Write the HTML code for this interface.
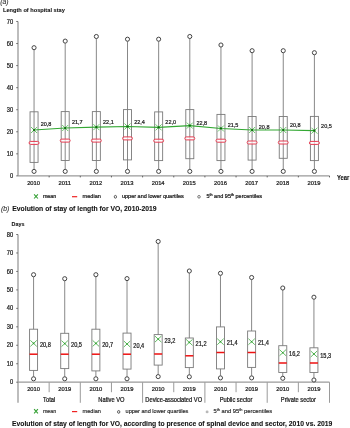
<!DOCTYPE html><html><head><meta charset="utf-8"><style>html,body{margin:0;padding:0;background:#fff;}svg{display:block;filter:blur(0.3px);}text{font-family:"Liberation Sans",sans-serif;stroke:currentColor;stroke-width:0.24px;}text[font-weight="bold"]{stroke-width:0.08px;}</style></head><body>
<svg width="350" height="428" viewBox="0 0 350 428">
<rect width="350" height="428" fill="#fff"/>
<text x="0.3" y="3.5" font-size="6.8" font-style="italic" fill="#333" style="stroke-width:0.1px" color="#333">(a)</text>
<text transform="translate(3.00 12.30) scale(0.9091 1)" font-size="6.22" fill="#111" color="#111" font-weight="bold">Length of hospital stay</text>
<line x1="18.0" y1="21.48" x2="18.0" y2="175.90" stroke="#9a9a9a" stroke-width="1.3"/>
<line x1="16.2" y1="175.90" x2="18.0" y2="175.90" stroke="#666" stroke-width="0.9"/>
<text transform="translate(13.20 178.00) scale(0.9091 1)" font-size="6.27" text-anchor="end" fill="#222" color="#222">0</text>
<line x1="16.2" y1="153.84" x2="18.0" y2="153.84" stroke="#666" stroke-width="0.9"/>
<text transform="translate(13.20 155.94) scale(0.9091 1)" font-size="6.27" text-anchor="end" fill="#222" color="#222">10</text>
<line x1="16.2" y1="131.78" x2="18.0" y2="131.78" stroke="#666" stroke-width="0.9"/>
<text transform="translate(13.20 133.88) scale(0.9091 1)" font-size="6.27" text-anchor="end" fill="#222" color="#222">20</text>
<line x1="16.2" y1="109.72" x2="18.0" y2="109.72" stroke="#666" stroke-width="0.9"/>
<text transform="translate(13.20 111.82) scale(0.9091 1)" font-size="6.27" text-anchor="end" fill="#222" color="#222">30</text>
<line x1="16.2" y1="87.66" x2="18.0" y2="87.66" stroke="#666" stroke-width="0.9"/>
<text transform="translate(13.20 89.76) scale(0.9091 1)" font-size="6.27" text-anchor="end" fill="#222" color="#222">40</text>
<line x1="16.2" y1="65.60" x2="18.0" y2="65.60" stroke="#666" stroke-width="0.9"/>
<text transform="translate(13.20 67.70) scale(0.9091 1)" font-size="6.27" text-anchor="end" fill="#222" color="#222">50</text>
<line x1="16.2" y1="43.54" x2="18.0" y2="43.54" stroke="#666" stroke-width="0.9"/>
<text transform="translate(13.20 45.64) scale(0.9091 1)" font-size="6.27" text-anchor="end" fill="#222" color="#222">60</text>
<line x1="16.2" y1="21.48" x2="18.0" y2="21.48" stroke="#666" stroke-width="0.9"/>
<text transform="translate(13.20 23.58) scale(0.9091 1)" font-size="6.27" text-anchor="end" fill="#222" color="#222">70</text>
<line x1="18.0" y1="175.90" x2="329.50" y2="175.90" stroke="#9a9a9a" stroke-width="1.3"/>
<line x1="49.15" y1="175.90" x2="49.15" y2="177.40" stroke="#555" stroke-width="0.9"/>
<line x1="80.30" y1="175.90" x2="80.30" y2="177.40" stroke="#555" stroke-width="0.9"/>
<line x1="111.45" y1="175.90" x2="111.45" y2="177.40" stroke="#555" stroke-width="0.9"/>
<line x1="142.60" y1="175.90" x2="142.60" y2="177.40" stroke="#555" stroke-width="0.9"/>
<line x1="173.75" y1="175.90" x2="173.75" y2="177.40" stroke="#555" stroke-width="0.9"/>
<line x1="204.90" y1="175.90" x2="204.90" y2="177.40" stroke="#555" stroke-width="0.9"/>
<line x1="236.05" y1="175.90" x2="236.05" y2="177.40" stroke="#555" stroke-width="0.9"/>
<line x1="267.20" y1="175.90" x2="267.20" y2="177.40" stroke="#555" stroke-width="0.9"/>
<line x1="298.35" y1="175.90" x2="298.35" y2="177.40" stroke="#555" stroke-width="0.9"/>
<line x1="329.50" y1="175.90" x2="329.50" y2="177.40" stroke="#555" stroke-width="0.9"/>
<text x="33.58" y="185.20" font-size="5.8" text-anchor="middle" fill="#222" color="#222">2010</text>
<text x="64.72" y="185.20" font-size="5.8" text-anchor="middle" fill="#222" color="#222">2011</text>
<text x="95.88" y="185.20" font-size="5.8" text-anchor="middle" fill="#222" color="#222">2012</text>
<text x="127.02" y="185.20" font-size="5.8" text-anchor="middle" fill="#222" color="#222">2013</text>
<text x="158.17" y="185.20" font-size="5.8" text-anchor="middle" fill="#222" color="#222">2014</text>
<text x="189.32" y="185.20" font-size="5.8" text-anchor="middle" fill="#222" color="#222">2015</text>
<text x="220.47" y="185.20" font-size="5.8" text-anchor="middle" fill="#222" color="#222">2016</text>
<text x="251.62" y="185.20" font-size="5.8" text-anchor="middle" fill="#222" color="#222">2017</text>
<text x="282.77" y="185.20" font-size="5.8" text-anchor="middle" fill="#222" color="#222">2018</text>
<text x="313.93" y="185.20" font-size="5.8" text-anchor="middle" fill="#222" color="#222">2019</text>
<text transform="translate(337.00 179.70) scale(0.9091 1)" font-size="6.44" fill="#111" color="#111" font-weight="bold">Year</text>
<line x1="34.05" y1="49.75" x2="34.05" y2="169.35" stroke="#7a7a7a" stroke-width="0.9"/>
<rect x="30.05" y="111.80" width="8" height="50.60" fill="none" stroke="#7a7a7a" stroke-width="0.9"/>
<circle cx="34.05" cy="47.70" r="2.05" fill="#fff" stroke="#444" stroke-width="1.0"/>
<circle cx="34.05" cy="171.40" r="2.05" fill="#fff" stroke="#444" stroke-width="1.0"/>
<rect x="29.10" y="141.40" width="9.9" height="3.0" rx="1.5" fill="#fff" fill-opacity="0.65" stroke="#e63a50" stroke-width="1.0"/>
<text transform="translate(40.75 125.60) scale(0.9091 1)" font-size="6.05" fill="#222" color="#222">20,8</text>
<line x1="65.20" y1="43.15" x2="65.20" y2="169.35" stroke="#7a7a7a" stroke-width="0.9"/>
<rect x="61.20" y="111.60" width="8" height="48.90" fill="none" stroke="#7a7a7a" stroke-width="0.9"/>
<circle cx="65.20" cy="41.10" r="2.05" fill="#fff" stroke="#444" stroke-width="1.0"/>
<circle cx="65.20" cy="171.40" r="2.05" fill="#fff" stroke="#444" stroke-width="1.0"/>
<rect x="60.25" y="139.10" width="9.9" height="3.0" rx="1.5" fill="#fff" fill-opacity="0.65" stroke="#e63a50" stroke-width="1.0"/>
<text transform="translate(71.90 124.20) scale(0.9091 1)" font-size="6.05" fill="#222" color="#222">21,7</text>
<line x1="96.35" y1="38.55" x2="96.35" y2="169.35" stroke="#7a7a7a" stroke-width="0.9"/>
<rect x="92.35" y="111.60" width="8" height="48.90" fill="none" stroke="#7a7a7a" stroke-width="0.9"/>
<circle cx="96.35" cy="36.50" r="2.05" fill="#fff" stroke="#444" stroke-width="1.0"/>
<circle cx="96.35" cy="171.40" r="2.05" fill="#fff" stroke="#444" stroke-width="1.0"/>
<rect x="91.40" y="139.10" width="9.9" height="3.0" rx="1.5" fill="#fff" fill-opacity="0.65" stroke="#e63a50" stroke-width="1.0"/>
<text transform="translate(103.05 124.20) scale(0.9091 1)" font-size="6.05" fill="#222" color="#222">22,1</text>
<line x1="127.50" y1="41.25" x2="127.50" y2="169.35" stroke="#7a7a7a" stroke-width="0.9"/>
<rect x="123.50" y="109.60" width="8" height="50.30" fill="none" stroke="#7a7a7a" stroke-width="0.9"/>
<circle cx="127.50" cy="39.20" r="2.05" fill="#fff" stroke="#444" stroke-width="1.0"/>
<circle cx="127.50" cy="171.40" r="2.05" fill="#fff" stroke="#444" stroke-width="1.0"/>
<rect x="122.55" y="136.90" width="9.9" height="3.0" rx="1.5" fill="#fff" fill-opacity="0.65" stroke="#e63a50" stroke-width="1.0"/>
<text transform="translate(134.20 123.50) scale(0.9091 1)" font-size="6.05" fill="#222" color="#222">22,4</text>
<line x1="158.65" y1="41.25" x2="158.65" y2="169.35" stroke="#7a7a7a" stroke-width="0.9"/>
<rect x="154.65" y="111.90" width="8" height="48.70" fill="none" stroke="#7a7a7a" stroke-width="0.9"/>
<circle cx="158.65" cy="39.20" r="2.05" fill="#fff" stroke="#444" stroke-width="1.0"/>
<circle cx="158.65" cy="171.40" r="2.05" fill="#fff" stroke="#444" stroke-width="1.0"/>
<rect x="153.70" y="139.20" width="9.9" height="3.0" rx="1.5" fill="#fff" fill-opacity="0.65" stroke="#e63a50" stroke-width="1.0"/>
<text transform="translate(165.35 123.90) scale(0.9091 1)" font-size="6.05" fill="#222" color="#222">22,0</text>
<line x1="189.80" y1="38.55" x2="189.80" y2="169.35" stroke="#7a7a7a" stroke-width="0.9"/>
<rect x="185.80" y="109.60" width="8" height="49.10" fill="none" stroke="#7a7a7a" stroke-width="0.9"/>
<circle cx="189.80" cy="36.50" r="2.05" fill="#fff" stroke="#444" stroke-width="1.0"/>
<circle cx="189.80" cy="171.40" r="2.05" fill="#fff" stroke="#444" stroke-width="1.0"/>
<rect x="184.85" y="136.90" width="9.9" height="3.0" rx="1.5" fill="#fff" fill-opacity="0.65" stroke="#e63a50" stroke-width="1.0"/>
<text transform="translate(196.50 124.80) scale(0.9091 1)" font-size="6.05" fill="#222" color="#222">22,8</text>
<line x1="220.95" y1="47.05" x2="220.95" y2="169.35" stroke="#7a7a7a" stroke-width="0.9"/>
<rect x="216.95" y="114.40" width="8" height="46.20" fill="none" stroke="#7a7a7a" stroke-width="0.9"/>
<circle cx="220.95" cy="45.00" r="2.05" fill="#fff" stroke="#444" stroke-width="1.0"/>
<circle cx="220.95" cy="171.40" r="2.05" fill="#fff" stroke="#444" stroke-width="1.0"/>
<rect x="216.00" y="139.20" width="9.9" height="3.0" rx="1.5" fill="#fff" fill-opacity="0.65" stroke="#e63a50" stroke-width="1.0"/>
<text transform="translate(227.65 127.20) scale(0.9091 1)" font-size="6.05" fill="#222" color="#222">21,5</text>
<line x1="252.10" y1="52.75" x2="252.10" y2="169.35" stroke="#7a7a7a" stroke-width="0.9"/>
<rect x="248.10" y="116.50" width="8" height="43.60" fill="none" stroke="#7a7a7a" stroke-width="0.9"/>
<circle cx="252.10" cy="50.70" r="2.05" fill="#fff" stroke="#444" stroke-width="1.0"/>
<circle cx="252.10" cy="171.40" r="2.05" fill="#fff" stroke="#444" stroke-width="1.0"/>
<rect x="247.15" y="141.00" width="9.9" height="3.0" rx="1.5" fill="#fff" fill-opacity="0.65" stroke="#e63a50" stroke-width="1.0"/>
<text transform="translate(258.80 128.50) scale(0.9091 1)" font-size="6.05" fill="#222" color="#222">20,8</text>
<line x1="283.25" y1="52.75" x2="283.25" y2="169.35" stroke="#7a7a7a" stroke-width="0.9"/>
<rect x="279.25" y="116.50" width="8" height="41.80" fill="none" stroke="#7a7a7a" stroke-width="0.9"/>
<circle cx="283.25" cy="50.70" r="2.05" fill="#fff" stroke="#444" stroke-width="1.0"/>
<circle cx="283.25" cy="171.40" r="2.05" fill="#fff" stroke="#444" stroke-width="1.0"/>
<rect x="278.30" y="141.00" width="9.9" height="3.0" rx="1.5" fill="#fff" fill-opacity="0.65" stroke="#e63a50" stroke-width="1.0"/>
<text transform="translate(289.95 127.40) scale(0.9091 1)" font-size="6.05" fill="#222" color="#222">20,8</text>
<line x1="314.40" y1="54.75" x2="314.40" y2="169.35" stroke="#7a7a7a" stroke-width="0.9"/>
<rect x="310.40" y="116.40" width="8" height="44.20" fill="none" stroke="#7a7a7a" stroke-width="0.9"/>
<circle cx="314.40" cy="52.70" r="2.05" fill="#fff" stroke="#444" stroke-width="1.0"/>
<circle cx="314.40" cy="171.40" r="2.05" fill="#fff" stroke="#444" stroke-width="1.0"/>
<rect x="309.45" y="141.40" width="9.9" height="3.0" rx="1.5" fill="#fff" fill-opacity="0.65" stroke="#e63a50" stroke-width="1.0"/>
<text transform="translate(321.10 127.90) scale(0.9091 1)" font-size="6.05" fill="#222" color="#222">20,5</text>
<polyline points="34.05,130.02 65.20,128.03 96.35,127.15 127.50,126.49 158.65,127.37 189.80,125.60 220.95,128.47 252.10,130.02 283.25,130.02 314.40,130.68" fill="none" stroke="#33a833" stroke-width="1.15"/>
<path d="M31.05 127.02L37.05 133.02M31.05 133.02L37.05 127.02" stroke="#44bb44" stroke-width="0.8"/>
<circle cx="34.05" cy="130.02" r="1.1" fill="#0a6a0a"/>
<path d="M62.20 125.03L68.20 131.03M62.20 131.03L68.20 125.03" stroke="#44bb44" stroke-width="0.8"/>
<circle cx="65.20" cy="128.03" r="1.1" fill="#0a6a0a"/>
<path d="M93.35 124.15L99.35 130.15M93.35 130.15L99.35 124.15" stroke="#44bb44" stroke-width="0.8"/>
<circle cx="96.35" cy="127.15" r="1.1" fill="#0a6a0a"/>
<path d="M124.50 123.49L130.50 129.49M124.50 129.49L130.50 123.49" stroke="#44bb44" stroke-width="0.8"/>
<circle cx="127.50" cy="126.49" r="1.1" fill="#0a6a0a"/>
<path d="M155.65 124.37L161.65 130.37M155.65 130.37L161.65 124.37" stroke="#44bb44" stroke-width="0.8"/>
<circle cx="158.65" cy="127.37" r="1.1" fill="#0a6a0a"/>
<path d="M186.80 122.60L192.80 128.60M186.80 128.60L192.80 122.60" stroke="#44bb44" stroke-width="0.8"/>
<circle cx="189.80" cy="125.60" r="1.1" fill="#0a6a0a"/>
<path d="M217.95 125.47L223.95 131.47M217.95 131.47L223.95 125.47" stroke="#44bb44" stroke-width="0.8"/>
<circle cx="220.95" cy="128.47" r="1.1" fill="#0a6a0a"/>
<path d="M249.10 127.02L255.10 133.02M249.10 133.02L255.10 127.02" stroke="#44bb44" stroke-width="0.8"/>
<circle cx="252.10" cy="130.02" r="1.1" fill="#0a6a0a"/>
<path d="M280.25 127.02L286.25 133.02M280.25 133.02L286.25 127.02" stroke="#44bb44" stroke-width="0.8"/>
<circle cx="283.25" cy="130.02" r="1.1" fill="#0a6a0a"/>
<path d="M311.40 127.68L317.40 133.68M311.40 133.68L317.40 127.68" stroke="#44bb44" stroke-width="0.8"/>
<circle cx="314.40" cy="130.68" r="1.1" fill="#0a6a0a"/>
<path d="M34.10 194.30L37.90 198.50M34.10 198.50L37.90 194.30" stroke="#33a033" stroke-width="1.1"/>
<text x="42.9" y="197.70" font-size="5.35" fill="#222" color="#222" style="stroke-width:0.24px">mean</text>
<line x1="72.0" y1="196.70" x2="77.2" y2="196.70" stroke="#ee2222" stroke-width="1.2"/>
<text x="82.6" y="197.70" font-size="5.6" fill="#222" color="#222" style="stroke-width:0.24px">median</text>
<ellipse cx="115.40" cy="196.80" rx="1.15" ry="1.4" fill="#fff" stroke="#333" stroke-width="0.8"/>
<text x="122.00" y="197.70" font-size="5.5" fill="#222" color="#222" style="stroke-width:0.24px">upper and lower quartiles</text>
<circle cx="199.00" cy="196.80" r="1.3" fill="#fff" stroke="#444" stroke-width="0.7"/>
<text x="206.50" y="197.70" font-size="5.5" fill="#222" color="#222" style="stroke-width:0.24px">5<tspan font-size="3.63" dy="-1.8">th</tspan><tspan dy="1.8"> and 95</tspan><tspan font-size="3.63" dy="-1.8">th</tspan><tspan dy="1.8"> percentiles</tspan></text>
<text x="0.9" y="211.4" font-size="6.8" font-style="italic" fill="#333" style="stroke-width:0.1px" color="#333">(b)</text>
<text x="12.3" y="211.3" font-size="6.8" font-weight="bold" fill="#111" color="#111">Evolution of stay of length for VO, 2010-2019</text>
<text transform="translate(11.60 225.90) scale(0.8696 1)" font-size="6.27" fill="#111" color="#111" font-weight="bold">Days</text>
<line x1="18.0" y1="234.52" x2="18.0" y2="402.8" stroke="#9a9a9a" stroke-width="1.3"/>
<line x1="16.2" y1="382.20" x2="18.0" y2="382.20" stroke="#666" stroke-width="0.9"/>
<text transform="translate(13.20 384.30) scale(0.9091 1)" font-size="6.27" text-anchor="end" fill="#222" color="#222">0</text>
<line x1="16.2" y1="363.74" x2="18.0" y2="363.74" stroke="#666" stroke-width="0.9"/>
<text transform="translate(13.20 365.84) scale(0.9091 1)" font-size="6.27" text-anchor="end" fill="#222" color="#222">10</text>
<line x1="16.2" y1="345.28" x2="18.0" y2="345.28" stroke="#666" stroke-width="0.9"/>
<text transform="translate(13.20 347.38) scale(0.9091 1)" font-size="6.27" text-anchor="end" fill="#222" color="#222">20</text>
<line x1="16.2" y1="326.82" x2="18.0" y2="326.82" stroke="#666" stroke-width="0.9"/>
<text transform="translate(13.20 328.92) scale(0.9091 1)" font-size="6.27" text-anchor="end" fill="#222" color="#222">30</text>
<line x1="16.2" y1="308.36" x2="18.0" y2="308.36" stroke="#666" stroke-width="0.9"/>
<text transform="translate(13.20 310.46) scale(0.9091 1)" font-size="6.27" text-anchor="end" fill="#222" color="#222">40</text>
<line x1="16.2" y1="289.90" x2="18.0" y2="289.90" stroke="#666" stroke-width="0.9"/>
<text transform="translate(13.20 292.00) scale(0.9091 1)" font-size="6.27" text-anchor="end" fill="#222" color="#222">50</text>
<line x1="16.2" y1="271.44" x2="18.0" y2="271.44" stroke="#666" stroke-width="0.9"/>
<text transform="translate(13.20 273.54) scale(0.9091 1)" font-size="6.27" text-anchor="end" fill="#222" color="#222">60</text>
<line x1="16.2" y1="252.98" x2="18.0" y2="252.98" stroke="#666" stroke-width="0.9"/>
<text transform="translate(13.20 255.08) scale(0.9091 1)" font-size="6.27" text-anchor="end" fill="#222" color="#222">70</text>
<line x1="16.2" y1="234.52" x2="18.0" y2="234.52" stroke="#666" stroke-width="0.9"/>
<text transform="translate(13.20 236.62) scale(0.9091 1)" font-size="6.27" text-anchor="end" fill="#222" color="#222">80</text>
<line x1="18.0" y1="382.20" x2="329.50" y2="382.20" stroke="#9a9a9a" stroke-width="1.3"/>
<line x1="49.15" y1="382.20" x2="49.15" y2="392.20" stroke="#9a9a9a" stroke-width="1"/>
<line x1="80.30" y1="382.20" x2="80.30" y2="402.80" stroke="#9a9a9a" stroke-width="1"/>
<line x1="111.45" y1="382.20" x2="111.45" y2="392.20" stroke="#9a9a9a" stroke-width="1"/>
<line x1="142.60" y1="382.20" x2="142.60" y2="402.80" stroke="#9a9a9a" stroke-width="1"/>
<line x1="173.75" y1="382.20" x2="173.75" y2="392.20" stroke="#9a9a9a" stroke-width="1"/>
<line x1="204.90" y1="382.20" x2="204.90" y2="402.80" stroke="#9a9a9a" stroke-width="1"/>
<line x1="236.05" y1="382.20" x2="236.05" y2="392.20" stroke="#9a9a9a" stroke-width="1"/>
<line x1="267.20" y1="382.20" x2="267.20" y2="402.80" stroke="#9a9a9a" stroke-width="1"/>
<line x1="298.35" y1="382.20" x2="298.35" y2="392.20" stroke="#9a9a9a" stroke-width="1"/>
<line x1="329.50" y1="382.20" x2="329.50" y2="402.80" stroke="#9a9a9a" stroke-width="1"/>
<text x="33.58" y="390.60" font-size="5.8" text-anchor="middle" fill="#222" color="#222">2010</text>
<text x="64.72" y="390.60" font-size="5.8" text-anchor="middle" fill="#222" color="#222">2019</text>
<text x="95.88" y="390.60" font-size="5.8" text-anchor="middle" fill="#222" color="#222">2010</text>
<text x="127.02" y="390.60" font-size="5.8" text-anchor="middle" fill="#222" color="#222">2019</text>
<text x="158.17" y="390.60" font-size="5.8" text-anchor="middle" fill="#222" color="#222">2010</text>
<text x="189.32" y="390.60" font-size="5.8" text-anchor="middle" fill="#222" color="#222">2019</text>
<text x="220.47" y="390.60" font-size="5.8" text-anchor="middle" fill="#222" color="#222">2010</text>
<text x="251.62" y="390.60" font-size="5.8" text-anchor="middle" fill="#222" color="#222">2019</text>
<text x="282.77" y="390.60" font-size="5.8" text-anchor="middle" fill="#222" color="#222">2010</text>
<text x="313.93" y="390.60" font-size="5.8" text-anchor="middle" fill="#222" color="#222">2019</text>
<text transform="translate(49.15 401.60) scale(0.9091 1)" font-size="6.33" text-anchor="middle" fill="#222" color="#222">Total</text>
<text transform="translate(111.45 401.60) scale(0.9091 1)" font-size="6.33" text-anchor="middle" fill="#222" color="#222">Native VO</text>
<text transform="translate(173.75 401.60) scale(0.9091 1)" font-size="6.33" text-anchor="middle" fill="#222" color="#222">Device-associated VO</text>
<text transform="translate(236.05 401.60) scale(0.9091 1)" font-size="6.33" text-anchor="middle" fill="#222" color="#222">Public sector</text>
<text transform="translate(298.35 401.60) scale(0.9091 1)" font-size="6.33" text-anchor="middle" fill="#222" color="#222">Private sector</text>
<line x1="33.58" y1="276.75" x2="33.58" y2="329.20" stroke="#7a7a7a" stroke-width="0.9"/>
<line x1="33.58" y1="370.40" x2="33.58" y2="376.75" stroke="#7a7a7a" stroke-width="0.9"/>
<rect x="29.58" y="329.20" width="8" height="41.20" fill="none" stroke="#7a7a7a" stroke-width="0.9"/>
<circle cx="33.58" cy="274.70" r="2.05" fill="#fff" stroke="#444" stroke-width="1.0"/>
<circle cx="33.58" cy="378.80" r="2.05" fill="#fff" stroke="#444" stroke-width="1.0"/>
<line x1="29.58" y1="354.20" x2="37.58" y2="354.20" stroke="#ee1111" stroke-width="1.5"/>
<path d="M30.38 340.40L36.78 346.40M30.38 346.40L36.78 340.40" stroke="#3aaa3a" stroke-width="0.8"/>
<circle cx="33.58" cy="343.40" r="0.8" fill="#2f9f2f"/>
<text transform="translate(39.88 346.90) scale(0.8621 1)" font-size="6.50" fill="#222" color="#222">20,8</text>
<line x1="64.72" y1="280.75" x2="64.72" y2="333.30" stroke="#7a7a7a" stroke-width="0.9"/>
<line x1="64.72" y1="368.60" x2="64.72" y2="376.75" stroke="#7a7a7a" stroke-width="0.9"/>
<rect x="60.72" y="333.30" width="8" height="35.30" fill="none" stroke="#7a7a7a" stroke-width="0.9"/>
<circle cx="64.72" cy="278.70" r="2.05" fill="#fff" stroke="#444" stroke-width="1.0"/>
<circle cx="64.72" cy="378.80" r="2.05" fill="#fff" stroke="#444" stroke-width="1.0"/>
<line x1="60.72" y1="354.20" x2="68.72" y2="354.20" stroke="#ee1111" stroke-width="1.5"/>
<path d="M61.52 340.60L67.92 346.60M61.52 346.60L67.92 340.60" stroke="#3aaa3a" stroke-width="0.8"/>
<circle cx="64.72" cy="343.60" r="0.8" fill="#2f9f2f"/>
<text transform="translate(71.02 347.10) scale(0.8621 1)" font-size="6.50" fill="#222" color="#222">20,5</text>
<line x1="95.88" y1="276.75" x2="95.88" y2="329.20" stroke="#7a7a7a" stroke-width="0.9"/>
<line x1="95.88" y1="370.90" x2="95.88" y2="376.75" stroke="#7a7a7a" stroke-width="0.9"/>
<rect x="91.88" y="329.20" width="8" height="41.70" fill="none" stroke="#7a7a7a" stroke-width="0.9"/>
<circle cx="95.88" cy="274.70" r="2.05" fill="#fff" stroke="#444" stroke-width="1.0"/>
<circle cx="95.88" cy="378.80" r="2.05" fill="#fff" stroke="#444" stroke-width="1.0"/>
<line x1="91.88" y1="354.20" x2="99.88" y2="354.20" stroke="#ee1111" stroke-width="1.5"/>
<path d="M92.67 340.40L99.08 346.40M92.67 346.40L99.08 340.40" stroke="#3aaa3a" stroke-width="0.8"/>
<circle cx="95.88" cy="343.40" r="0.8" fill="#2f9f2f"/>
<text transform="translate(102.17 346.90) scale(0.8621 1)" font-size="6.50" fill="#222" color="#222">20,7</text>
<line x1="127.02" y1="280.65" x2="127.02" y2="333.10" stroke="#7a7a7a" stroke-width="0.9"/>
<line x1="127.02" y1="369.10" x2="127.02" y2="376.75" stroke="#7a7a7a" stroke-width="0.9"/>
<rect x="123.02" y="333.10" width="8" height="36.00" fill="none" stroke="#7a7a7a" stroke-width="0.9"/>
<circle cx="127.02" cy="278.60" r="2.05" fill="#fff" stroke="#444" stroke-width="1.0"/>
<circle cx="127.02" cy="378.80" r="2.05" fill="#fff" stroke="#444" stroke-width="1.0"/>
<line x1="123.02" y1="354.20" x2="131.02" y2="354.20" stroke="#ee1111" stroke-width="1.5"/>
<path d="M123.82 341.00L130.22 347.00M123.82 347.00L130.22 341.00" stroke="#3aaa3a" stroke-width="0.8"/>
<circle cx="127.02" cy="344.00" r="0.8" fill="#2f9f2f"/>
<text transform="translate(133.32 347.50) scale(0.8621 1)" font-size="6.50" fill="#222" color="#222">20,4</text>
<line x1="158.17" y1="243.55" x2="158.17" y2="334.60" stroke="#7a7a7a" stroke-width="0.9"/>
<line x1="158.17" y1="365.10" x2="158.17" y2="374.55" stroke="#7a7a7a" stroke-width="0.9"/>
<rect x="154.17" y="334.60" width="8" height="30.50" fill="none" stroke="#7a7a7a" stroke-width="0.9"/>
<circle cx="158.17" cy="241.50" r="2.05" fill="#fff" stroke="#444" stroke-width="1.0"/>
<circle cx="158.17" cy="376.60" r="2.05" fill="#fff" stroke="#444" stroke-width="1.0"/>
<line x1="154.17" y1="354.00" x2="162.17" y2="354.00" stroke="#ee1111" stroke-width="1.5"/>
<path d="M154.97 336.10L161.37 342.10M154.97 342.10L161.37 336.10" stroke="#3aaa3a" stroke-width="0.8"/>
<circle cx="158.17" cy="339.10" r="0.8" fill="#2f9f2f"/>
<text transform="translate(164.47 342.60) scale(0.8621 1)" font-size="6.50" fill="#222" color="#222">23,2</text>
<line x1="189.32" y1="273.05" x2="189.32" y2="338.00" stroke="#7a7a7a" stroke-width="0.9"/>
<line x1="189.32" y1="367.60" x2="189.32" y2="374.75" stroke="#7a7a7a" stroke-width="0.9"/>
<rect x="185.32" y="338.00" width="8" height="29.60" fill="none" stroke="#7a7a7a" stroke-width="0.9"/>
<circle cx="189.32" cy="271.00" r="2.05" fill="#fff" stroke="#444" stroke-width="1.0"/>
<circle cx="189.32" cy="376.80" r="2.05" fill="#fff" stroke="#444" stroke-width="1.0"/>
<line x1="185.32" y1="355.80" x2="193.32" y2="355.80" stroke="#ee1111" stroke-width="1.5"/>
<path d="M186.12 339.40L192.52 345.40M186.12 345.40L192.52 339.40" stroke="#3aaa3a" stroke-width="0.8"/>
<circle cx="189.32" cy="342.40" r="0.8" fill="#2f9f2f"/>
<text transform="translate(195.62 345.90) scale(0.8621 1)" font-size="6.50" fill="#222" color="#222">21,2</text>
<line x1="220.47" y1="275.35" x2="220.47" y2="326.90" stroke="#7a7a7a" stroke-width="0.9"/>
<line x1="220.47" y1="368.90" x2="220.47" y2="375.85" stroke="#7a7a7a" stroke-width="0.9"/>
<rect x="216.47" y="326.90" width="8" height="42.00" fill="none" stroke="#7a7a7a" stroke-width="0.9"/>
<circle cx="220.47" cy="273.30" r="2.05" fill="#fff" stroke="#444" stroke-width="1.0"/>
<circle cx="220.47" cy="377.90" r="2.05" fill="#fff" stroke="#444" stroke-width="1.0"/>
<line x1="216.47" y1="352.50" x2="224.47" y2="352.50" stroke="#ee1111" stroke-width="1.5"/>
<path d="M217.28 338.70L223.67 344.70M217.28 344.70L223.67 338.70" stroke="#3aaa3a" stroke-width="0.8"/>
<circle cx="220.47" cy="341.70" r="0.8" fill="#2f9f2f"/>
<text transform="translate(226.78 345.20) scale(0.8621 1)" font-size="6.50" fill="#222" color="#222">21,4</text>
<line x1="251.62" y1="279.55" x2="251.62" y2="331.00" stroke="#7a7a7a" stroke-width="0.9"/>
<line x1="251.62" y1="367.40" x2="251.62" y2="375.85" stroke="#7a7a7a" stroke-width="0.9"/>
<rect x="247.62" y="331.00" width="8" height="36.40" fill="none" stroke="#7a7a7a" stroke-width="0.9"/>
<circle cx="251.62" cy="277.50" r="2.05" fill="#fff" stroke="#444" stroke-width="1.0"/>
<circle cx="251.62" cy="377.90" r="2.05" fill="#fff" stroke="#444" stroke-width="1.0"/>
<line x1="247.62" y1="352.50" x2="255.62" y2="352.50" stroke="#ee1111" stroke-width="1.5"/>
<path d="M248.43 338.70L254.82 344.70M248.43 344.70L254.82 338.70" stroke="#3aaa3a" stroke-width="0.8"/>
<circle cx="251.62" cy="341.70" r="0.8" fill="#2f9f2f"/>
<text transform="translate(257.93 345.20) scale(0.8621 1)" font-size="6.50" fill="#222" color="#222">21,4</text>
<line x1="282.77" y1="290.05" x2="282.77" y2="345.70" stroke="#7a7a7a" stroke-width="0.9"/>
<line x1="282.77" y1="372.50" x2="282.77" y2="376.25" stroke="#7a7a7a" stroke-width="0.9"/>
<rect x="278.77" y="345.70" width="8" height="26.80" fill="none" stroke="#7a7a7a" stroke-width="0.9"/>
<circle cx="282.77" cy="288.00" r="2.05" fill="#fff" stroke="#444" stroke-width="1.0"/>
<circle cx="282.77" cy="378.30" r="2.05" fill="#fff" stroke="#444" stroke-width="1.0"/>
<line x1="278.77" y1="363.00" x2="286.77" y2="363.00" stroke="#ee1111" stroke-width="1.5"/>
<path d="M279.57 349.70L285.97 355.70M279.57 355.70L285.97 349.70" stroke="#3aaa3a" stroke-width="0.8"/>
<circle cx="282.77" cy="352.70" r="0.8" fill="#2f9f2f"/>
<text transform="translate(289.07 356.20) scale(0.8621 1)" font-size="6.50" fill="#222" color="#222">16,2</text>
<line x1="313.93" y1="299.25" x2="313.93" y2="347.80" stroke="#7a7a7a" stroke-width="0.9"/>
<line x1="313.93" y1="372.50" x2="313.93" y2="377.95" stroke="#7a7a7a" stroke-width="0.9"/>
<rect x="309.93" y="347.80" width="8" height="24.70" fill="none" stroke="#7a7a7a" stroke-width="0.9"/>
<circle cx="313.93" cy="297.20" r="2.05" fill="#fff" stroke="#444" stroke-width="1.0"/>
<circle cx="313.93" cy="380.00" r="2.05" fill="#fff" stroke="#444" stroke-width="1.0"/>
<line x1="309.93" y1="363.00" x2="317.93" y2="363.00" stroke="#ee1111" stroke-width="1.5"/>
<path d="M310.73 351.00L317.12 357.00M310.73 357.00L317.12 351.00" stroke="#3aaa3a" stroke-width="0.8"/>
<circle cx="313.93" cy="354.00" r="0.8" fill="#2f9f2f"/>
<text transform="translate(320.23 357.50) scale(0.8621 1)" font-size="6.50" fill="#222" color="#222">15,3</text>
<path d="M34.10 409.20L37.90 413.40M34.10 413.40L37.90 409.20" stroke="#33a033" stroke-width="1.1"/>
<text x="42.9" y="412.60" font-size="5.35" fill="#2a2a2a" color="#2a2a2a" style="stroke-width:0.17px">mean</text>
<line x1="72.0" y1="411.60" x2="77.2" y2="411.60" stroke="#ee2222" stroke-width="1.2"/>
<text x="82.6" y="412.60" font-size="5.6" fill="#2a2a2a" color="#2a2a2a" style="stroke-width:0.17px">median</text>
<ellipse cx="118.70" cy="411.90" rx="1.15" ry="1.4" fill="#fff" stroke="#333" stroke-width="0.8"/>
<text x="125.60" y="412.60" font-size="5.6" fill="#2a2a2a" color="#2a2a2a" style="stroke-width:0.17px">upper and lower quartiles</text>
<circle cx="207.10" cy="411.90" r="1.45" fill="#b8b8b8"/>
<text x="213.50" y="412.60" font-size="5.8" fill="#2a2a2a" color="#2a2a2a" style="stroke-width:0.17px">5<tspan font-size="3.83" dy="-1.8">th</tspan><tspan dy="1.8"> and 95</tspan><tspan font-size="3.83" dy="-1.8">th</tspan><tspan dy="1.8"> percentiles</tspan></text>
<text x="12" y="426.3" font-size="6.8" font-weight="bold" fill="#111" color="#111">Evolution of stay of length for VO, according to presence of spinal device and sector, 2010 vs. 2019</text>
</svg></body></html>
